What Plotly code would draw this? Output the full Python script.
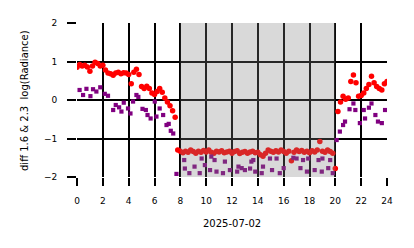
import plotly.graph_objects as go

# ---- data ----
red_hours = [0.0, 0.2, 0.4, 0.6, 0.8, 1.0, 1.2, 1.4, 1.6, 1.8, 2.0, 2.2, 2.4, 2.6, 2.8,
             3.0, 3.2, 3.4, 3.6, 3.8, 4.0, 4.2, 4.4, 4.6, 4.8, 5.0, 5.2, 5.4, 5.6, 5.8,
             6.0, 6.2, 6.4, 6.6, 6.8, 7.0, 7.2, 7.4, 7.6, 7.8, 8.0, 8.2, 8.4, 8.6, 8.8,
             9.0, 9.2, 9.4, 9.6, 9.8, 10.0, 10.2, 10.4, 10.6, 10.8, 11.0, 11.2, 11.4, 11.6, 11.8,
             12.0, 12.2, 12.4, 12.6, 12.8, 13.0, 13.2, 13.4, 13.6, 13.8, 14.0, 14.2, 14.4, 14.6, 14.8,
             15.0, 15.2, 15.4, 15.6, 15.8, 16.0, 16.2, 16.4, 16.6, 16.8, 17.0, 17.2, 17.4, 17.6, 17.8,
             18.0, 18.2, 18.4, 18.6, 18.8, 19.0, 19.2, 19.4, 19.6, 19.8, 20.0, 20.2, 20.4, 20.6, 20.8,
             21.0, 21.2, 21.4, 21.6, 21.8, 22.0, 22.2, 22.4, 22.6, 22.8, 23.0, 23.2, 23.4, 23.6, 23.8, 24.0]
red_values = [0.85, 0.92, 0.88, 0.90, 0.86, 0.75, 0.88, 0.98, 0.95, 0.88, 0.90, 0.78, 0.70, 0.68, 0.64,
              0.70, 0.72, 0.68, 0.71, 0.70, 0.66, 0.42, 0.72, 0.80, 0.66, 0.35, 0.30, 0.36, 0.30, 0.18,
              0.14, 0.22, 0.30, 0.20, 0.05, -0.05, -0.15, -0.28, -0.45, -1.30, -1.33, -1.37, -1.33, -1.36, -1.30,
              -1.34, -1.38, -1.33, -1.36, -1.31, -1.35, -1.30, -1.36, -1.38, -1.33, -1.35, -1.32, -1.37, -1.35, -1.33,
              -1.38, -1.34, -1.32, -1.39, -1.36, -1.34, -1.38, -1.35, -1.33, -1.37, -1.36, -1.42, -1.46, -1.38, -1.30,
              -1.33, -1.36, -1.32, -1.35, -1.30, -1.34, -1.38, -1.33, -1.58, -1.36, -1.30, -1.34, -1.31, -1.36, -1.33,
              -1.37, -1.32, -1.35, -1.30, -1.08, -1.33, -1.36, -1.30, -1.34, -1.38, -1.78, -0.30, -0.05, 0.10, 0.02,
              0.05, 0.48, 0.65, 0.45, 0.10, 0.12, 0.18, 0.30, 0.40, 0.62, 0.45, 0.35, 0.30, 0.26, 0.42, 0.48]

purple_hours = [0.2, 0.47, 0.73, 1.04, 1.24, 1.5, 1.8, 2.15, 2.4, 2.8, 3.0, 3.26, 3.44, 3.62, 3.95,
                4.14, 4.34, 4.6, 4.75, 5.07, 5.33, 5.46, 5.7, 6.02, 6.15, 6.4, 6.67, 6.93, 7.1, 7.26,
                7.45, 7.7, 8.3, 8.35, 8.7, 9.1, 9.5, 9.65, 9.9, 10.3, 10.4, 10.65, 10.8, 11.3, 11.45,
                11.84, 12.4, 12.5, 12.75, 13.0, 13.4, 13.5, 13.65, 13.8, 14.3, 14.4, 14.94, 15.1, 15.45, 15.7,
                16.0, 16.75, 17.0, 17.3, 17.5, 17.8, 17.9, 18.4, 18.7, 18.95, 19.0, 19.45, 19.6, 19.8, 20.1,
                20.35, 20.6, 20.75, 21.1, 21.4, 21.55, 21.9, 22.2, 22.3, 22.6, 22.8, 23.1, 23.3, 23.6, 23.85]
purple_values = [0.26, 0.13, 0.29, 0.10, 0.28, 0.22, 0.33, 0.16, 0.11, -0.26, -0.13, -0.19, -0.30, -0.07, -0.22,
                 -0.35, -0.04, 0.13, 0.08, -0.23, -0.26, -0.39, -0.48, -0.04, -0.43, -0.22, -0.39, -0.65, -0.62, -0.80,
                 -0.87, -1.92, -1.56, -1.78, -1.90, -1.73, -1.90, -1.52, -1.69, -1.82, -1.47, -1.56, -1.86, -1.90, -1.60,
                 -1.82, -1.86, -1.73, -1.77, -1.82, -1.78, -1.60, -1.56, -1.86, -1.90, -1.73, -1.52, -1.82, -1.52, -1.90,
                 -1.77, -1.50, -1.52, -1.77, -1.56, -1.86, -1.52, -1.82, -1.56, -1.86, -1.52, -1.77, -1.56, -1.90, -1.04,
                 -0.82, -0.65, -0.56, -0.24, -0.09, -0.26, -0.60, -0.26, -0.48, -0.20, -0.09, -0.39, -0.56, -0.60, -0.26]

x_ticks = [0, 2, 4, 6, 8, 10, 12, 14, 16, 18, 20, 22, 24]
y_ticks = [-2, -1, 0, 1, 2]
shade_start, shade_end = 8, 20
x_title = "2025-07-02"
y_title = "diff 1.6 &amp; 2.3  log(Radiance)"

FONT = "DejaVu Sans"

fig = go.Figure()
fig.add_trace(go.Scatter(x=red_hours, y=red_values, mode="markers",
                         marker=dict(color="#ff0000", size=5.5, symbol="circle", line=dict(width=0)),
                         showlegend=False))
fig.add_trace(go.Scatter(x=purple_hours, y=purple_values, mode="markers",
                         marker=dict(color="#800080", size=4.2, symbol="square", line=dict(width=0)),
                         showlegend=False))

fig.add_shape(type="rect", xref="x", yref="paper", x0=shade_start, x1=shade_end, y0=0, y1=1,
              fillcolor="rgba(128,128,128,0.3)", line=dict(width=0), layer="above")

fig.add_annotation(text=y_title, xref="paper", yref="paper", x=-0.171, y=0.5,
                   xanchor="center", yanchor="middle", textangle=-90, showarrow=False,
                   font=dict(family=FONT, size=10, color="black"))
fig.add_annotation(text=x_title, xref="paper", yref="paper", x=0.5, y=-0.30,
                   xanchor="center", yanchor="middle", showarrow=False,
                   font=dict(family=FONT, size=10, color="black"))

fig.update_layout(
    width=414, height=248,
    margin=dict(l=77, r=27, t=23, b=71),
    paper_bgcolor="white", plot_bgcolor="white",
    font=dict(family=FONT, size=9, color="black"),
    xaxis=dict(range=[0, 24], tickvals=x_ticks, showgrid=True, gridcolor="black", gridwidth=2,
               zeroline=False, showline=False, ticks="outside", ticklen=8, tickwidth=2,
               tickcolor="black", ticklabelstandoff=7, tickfont=dict(family=FONT, size=9)),
    yaxis=dict(range=[-2, 2], tickvals=y_ticks, showgrid=True, gridcolor="black", gridwidth=2,
               zeroline=False, showline=False, ticks="outside", ticklen=9, tickwidth=2,
               tickcolor="black", ticklabelstandoff=8, tickfont=dict(family=FONT, size=9)),
)

fig.write_html("out.html")
